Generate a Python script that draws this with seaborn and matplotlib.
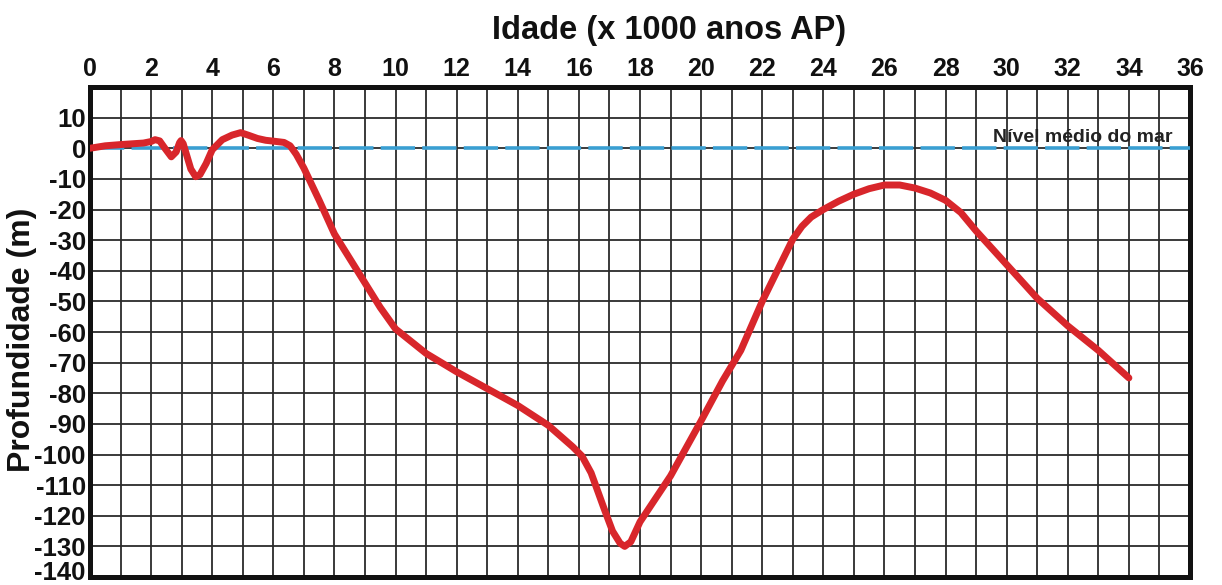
import matplotlib
matplotlib.use("Agg")
import matplotlib.pyplot as plt
import matplotlib.transforms as mtransforms
import seaborn as sns
import pandas as pd
import numpy as np

# Data
idade = [0, 0.5, 1.0, 1.3, 1.75, 2.0, 2.13, 2.28, 2.45, 2.66, 2.82, 2.93, 2.98,
         3.05, 3.15, 3.3, 3.46, 3.6, 3.8, 4.0, 4.33, 4.65, 4.93, 5.2, 5.48,
         5.75, 6.02, 6.35, 6.55, 6.75, 7.0, 7.5, 8.0, 8.5, 9.0, 9.5, 10.0,
         10.5, 11.0, 12.0, 13.0, 14.0, 15.0, 15.4, 15.8, 16.1, 16.4, 16.8,
         17.1, 17.35, 17.5, 17.7, 18.0, 19.0, 20.0, 20.7, 21.3, 22.0, 23.0,
         23.3, 23.6, 24.0, 24.5, 25.0, 25.5, 26.0, 26.5, 27.0, 27.5, 28.0,
         28.5, 29.0, 30.0, 31.0, 32.0, 33.0, 34.0]
profundidade = [0, 0.8, 1.2, 1.4, 1.7, 2.2, 2.8, 2.4, 0.0, -2.8, -1.2, 1.8, 2.5,
                1.5, -1.8, -6.8, -9.3, -8.6, -5.0, -0.5, 2.8, 4.3, 5.1, 4.2, 3.2,
                2.6, 2.3, 1.9, 0.8, -2.0, -6.5, -17, -28, -36, -44, -52, -59,
                -63, -67, -73, -78.5, -84, -90.5, -94, -97.5, -100.5, -106, -117,
                -125, -129, -130, -128.5, -122, -107, -89, -76, -66, -50, -29.7,
                -25.5, -22.5, -20, -17.3, -15, -13.2, -12, -12, -13, -14.6, -17,
                -21, -27, -38, -49, -58, -66, -75]
x_ticks = list(range(0, 37, 2))
y_ticks = list(range(-140, 11, 10))

df = pd.DataFrame({"Idade": idade, "Profundidade": profundidade})

sns.set_theme(style="white")
plt.rcParams['font.family'] = ['Liberation Sans', 'DejaVu Sans']
plt.rcParams['axes.unicode_minus'] = False

fig = plt.figure(figsize=(12.22, 5.85), dpi=100)
ax = fig.add_axes([90/1222, 1 - 577/585, 1100/1222, 490/585])

# grid
ax.set_xticks(np.arange(0, 37, 1), minor=True)
ax.set_yticks(np.arange(-140, 21, 10), minor=True)
ax.grid(which='minor', color='#2b2b2b', linewidth=1.3)
ax.grid(which='major', color='#2b2b2b', linewidth=1.3)

# sea level line
ax.axhline(0, color='#3a9fd2', linewidth=2.6, dashes=(9.5, 2.0), zorder=3)
ax.text(32.5, 2.2, "Nível médio do mar", ha='center', va='baseline',
        fontsize=14, fontweight='bold', color='#222222', zorder=4)

sns.lineplot(data=df, x="Idade", y="Profundidade", sort=False, estimator=None,
             color='#d8262b', linewidth=5, ax=ax, zorder=5,
             solid_joinstyle='round', solid_capstyle='round')

ax.set_xlim(0, 36)
ax.set_ylim(-140, 20)
ax.set_xticks(x_ticks)
ax.set_xticklabels([str(v) for v in x_ticks])
ax.set_yticks(y_ticks)
ax.set_yticklabels([str(v) for v in y_ticks])
ax.xaxis.tick_top()
ax.xaxis.set_label_position('top')
ax.tick_params(axis='x', which='both', length=0, pad=4, labelsize=18)
ax.tick_params(axis='y', which='both', length=0, pad=3, labelsize=18.5)
for lab in ax.get_xticklabels() + ax.get_yticklabels():
    lab.set_fontweight('bold')
    lab.set_color('#111111')

# keep the lowest label inside the figure
low = ax.get_yticklabels()[0]
low.set_transform(low.get_transform() +
                  mtransforms.ScaledTranslation(0, 5/72, fig.dpi_scale_trans))

ax.set_xlabel("")
ax.set_ylabel("")
fig.text(669/1222, 1 - 30/585, "Idade (x 1000 anos AP)", ha='center', va='center',
         fontsize=23.5, fontweight='bold', color='#111111')
fig.text(22/1222, 1 - 340/585, "Profundidade (m)", ha='center', va='center',
         rotation=90, fontsize=23, fontweight='bold', color='#111111')

for s in ax.spines.values():
    s.set_visible(True)
    s.set_color('#111111')
    s.set_linewidth(3.6)

fig.savefig("out.png", dpi=100, facecolor='white')
